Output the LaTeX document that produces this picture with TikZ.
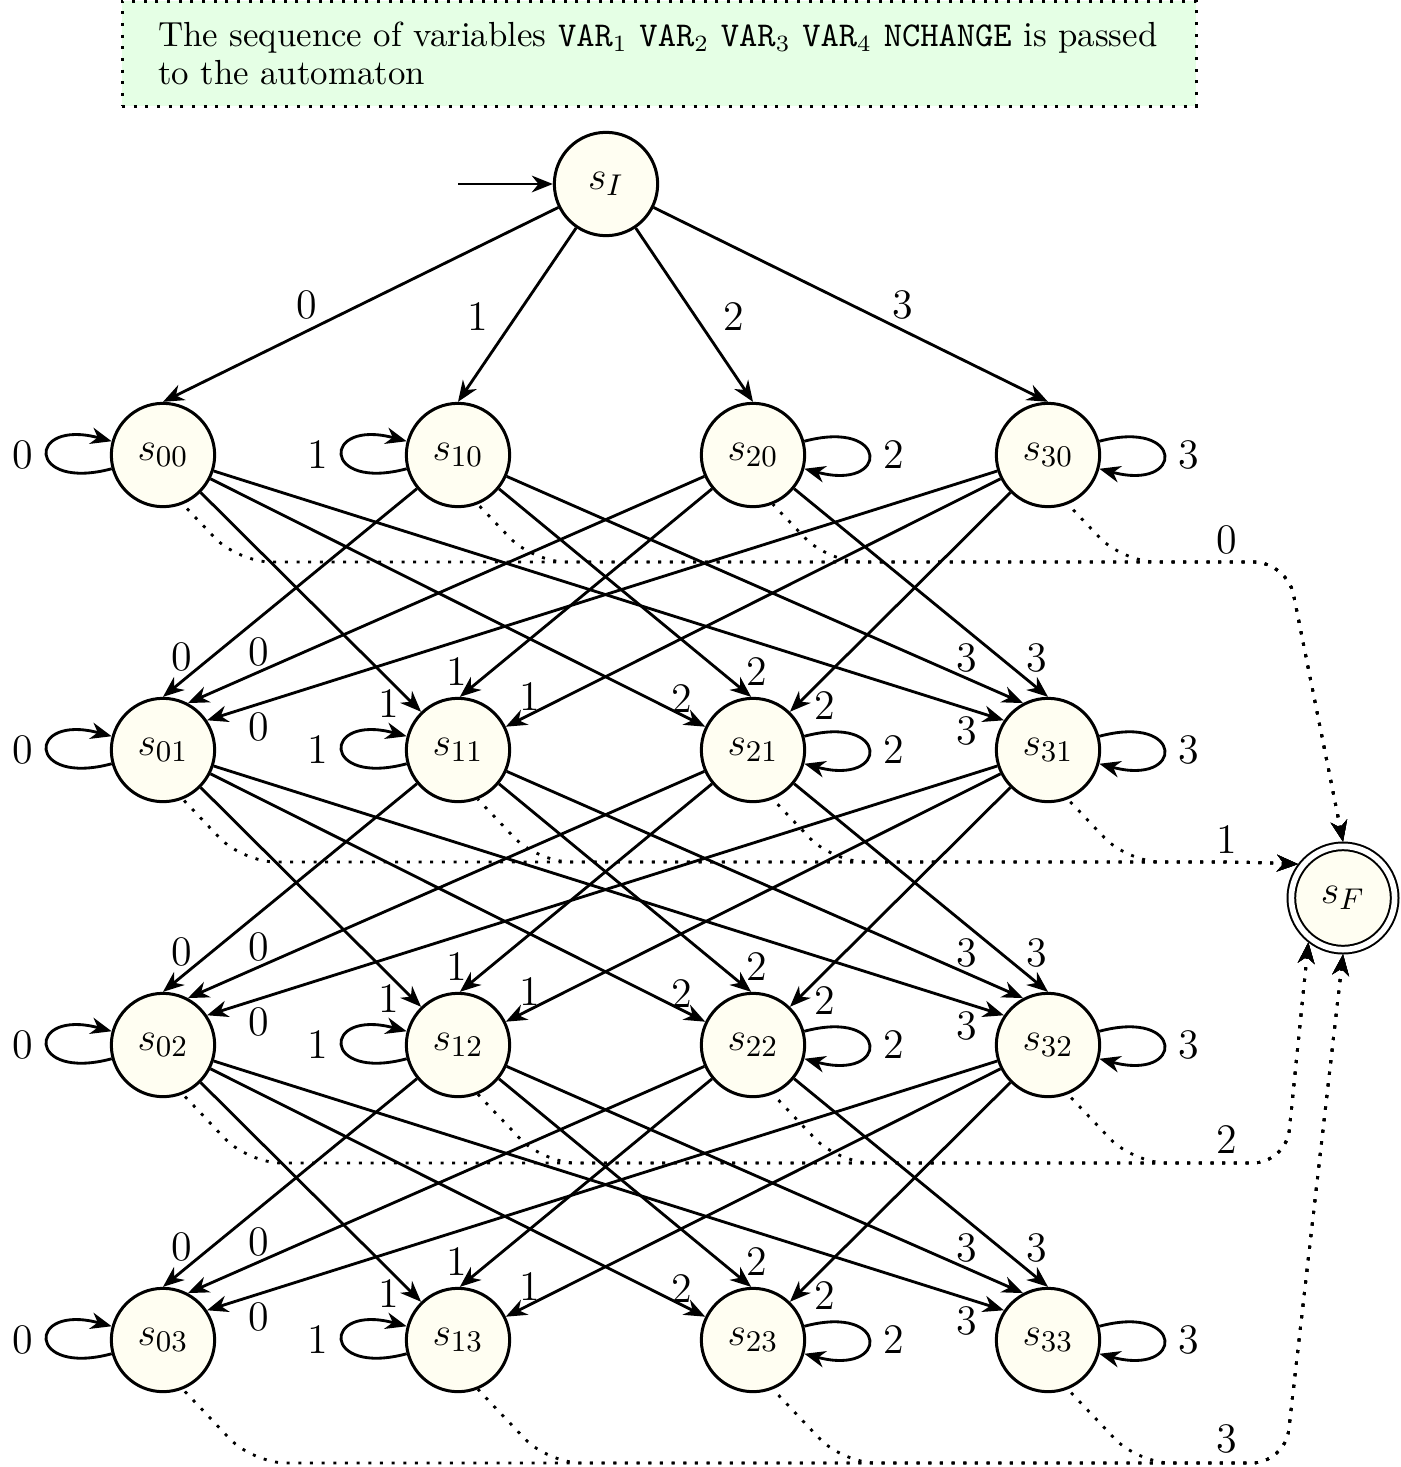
\documentclass[tikz,border=0pt]{standalone}
\usetikzlibrary{arrows.meta,calc}
\begin{document}
\begin{tikzpicture}[x=0.3pt,y=-0.3pt,
  st/.style={circle,draw,line width=0.9pt,fill=yellow!5,minimum size=31pt,inner sep=0pt,
    font=\fontsize{13}{15}\selectfont},
  acc/.style={circle,draw,line width=0.6pt,double,double distance=1.7pt,fill=yellow!5,
    minimum size=31pt,inner sep=0pt,outer sep=1.4pt,font=\fontsize{13}{15}\selectfont},
  tip/.tip={Stealth[length=6.3pt,width=5pt,inset=2pt]},
  trans/.style={line width=0.85pt,-tip},
  % drawn from the final state back to the source, so that the shared
  % stretches of all dotted connectors of a row keep the same dot phase
  fin/.style={line width=0.85pt,tip-,dash pattern=on 0.9pt off 2.6pt,rounded corners=10pt},
  lbl/.style={font=\fontsize{12.6}{15}\selectfont,inner sep=0pt},
  every loop/.style={distance=26.5pt},
  infobox/.style={draw,line width=0.9pt,dash pattern=on 0.9pt off 2.6pt,fill=green!10,
    minimum width=322pt,minimum height=31.5pt,text width=300.6pt,inner xsep=10.8pt,
    align=left,font=\fontsize{10.45}{11.5}\selectfont}]
\useasboundingbox (0,0) rectangle (1400,1467);

% header
\node[infobox] (info) at (659,53.5) {The sequence of variables \texttt{VAR}$_1$ \texttt{VAR}$_2$ \texttt{VAR}$_3$ \texttt{VAR}$_4$ \texttt{NCHANGE} is passed\\to the automaton};

% states
\node[st] (sI) at (606,184) {$s_I$};
\foreach \i in {0,...,3}
  \foreach \j in {0,...,3}
    \node[st] (s\i\j) at ({163+295*\i},{455+295*\j}) {$s_{\i\j}$};
\node[acc] (sF) at (1343,898) {$s_F$};

% initial arrow
\coordinate (start) at (458,184);
\draw[trans] (start) -- (sI);

% from the initial state
\foreach \k/\lx/\ly in {0/307/305,1/478/317,2/734/317,3/903/305}
  \draw[trans] (sI) -- (s\k0.north) node[lbl] at (\lx,\ly) {\k};

% self loops
\foreach \j in {0,...,3} {
  \path (s0\j) edge[trans,loop left] node[lbl,left=4pt] {0} ();
  \path (s1\j) edge[trans,loop left] node[lbl,left=4pt] {1} ();
  \path (s2\j) edge[trans,loop right] node[lbl,right=4pt] {2} ();
  \path (s3\j) edge[trans,loop right] node[lbl,right=4pt] {3} ();
}

% changes of value: one more change
\foreach \j [evaluate=\j as \nx using int(\j+1)] in {0,1,2} {
  \foreach \k/\i/\ang/\dx/\dy in {
      0/1/90/18.7/-93, 0/2/62/95.3/-98, 0/3/34/95.3/-23,
      1/0/134/-69.7/-46, 1/2/88/-1.3/-78, 1/3/26/72/-53,
      2/0/154/-71.3/-51, 2/1/92/3.7/-78, 2/3/46/72/-44,
      3/0/146/-81.3/-19, 3/1/118/-81.3/-92.3, 3/2/90/-11.3/-92.3}
    \draw[trans] (s\i\j) -- (s\k\nx.\ang) node[lbl] at ($(s\k\nx)+(\dx,\dy)$) {\k};
}

% transitions to the final state
\coordinate (k0) at (1287,562);
\coordinate (k1) at (1250,862);
\coordinate (k2) at (1286,1163);
\coordinate (k3) at (1285,1463);
\foreach \j/\yh/\ea/\ly in {0/562/90/540,1/862/143/840,2/1163/-128/1140,3/1463/-90/1439} {
  \foreach \i in {0,...,3} {
    \pgfmathsetmacro\cx{163+295*\i}
    \pgfmathsetmacro\cy{455+295*\j}
    \pgfmathsetmacro\xc{\cx+20+(\yh-\cy-48)*0.93}
    \draw[fin] (sF.\ea) -- (k\j) -- (\xc,\yh) -- (s\i\j.-68);
  }
  \node[lbl] (n\j) at (1227,\ly) {\j};
}
\end{tikzpicture}
\end{document}
